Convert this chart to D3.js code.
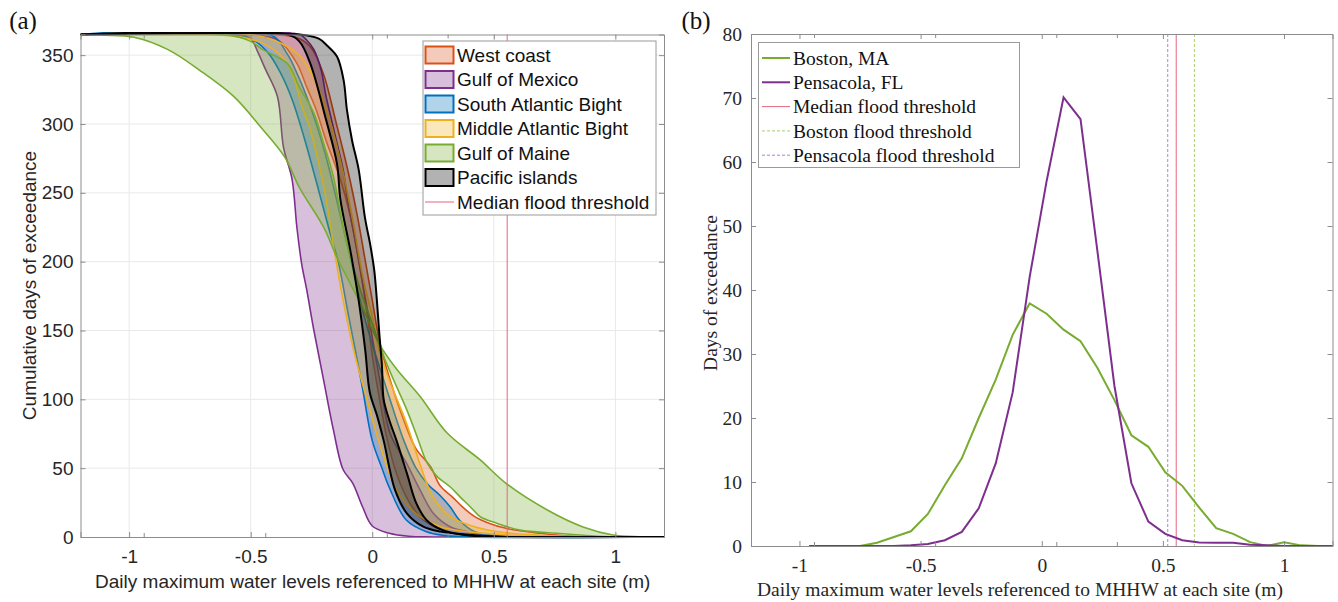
<!DOCTYPE html>
<html>
<head>
<meta charset="utf-8">
<script src="https://cdn.jsdelivr.net/npm/d3@7"></script>
<style>
  body { margin: 0; background: #fff; }
  svg { display: block; }
</style>
</head>
<body>
<svg id="chart" width="1338" height="602"></svg>
<script>

// ---- panel (a) data: cumulative days of exceedance, envelope per region [level (m), days]

const regionNames = ["West coast", "Gulf of Mexico", "South Atlantic Bight",
    "Middle Atlantic Bight", "Gulf of Maine", "Pacific islands"]

const westCoastUpper = [[-1.2, 365], [-0.4, 365], [-0.3, 362], [-0.25, 355], [-0.2, 336], [-0.15, 302],
    [-0.1, 266], [-0.06, 232], [-0.03, 202], [0.0, 172], [0.03, 142], [0.07, 116], [0.14, 80], [0.18, 64],
    [0.24, 51], [0.28, 37], [0.33, 29], [0.37, 22], [0.42, 15], [0.48, 10], [0.55, 6.3], [0.69, 2.7],
    [0.8, 0.8], [0.9, 0], [1.2, 0]]
const westCoastLower = [[-1.2, 365], [-0.5, 365], [-0.42, 363], [-0.38, 360], [-0.31, 344], [-0.27, 327],
    [-0.23, 310], [-0.19, 288], [-0.13, 259], [-0.09, 233], [-0.05, 195], [-0.02, 160], [0.0, 132],
    [0.03, 100], [0.06, 72], [0.1, 46], [0.15, 26], [0.2, 14], [0.3, 4], [0.4, 1], [0.5, 0], [1.2, 0]]

const gulfMexicoUpper = [[-1.2, 365], [-0.3, 365], [-0.27, 361], [-0.24, 354], [-0.21, 339], [-0.19, 320],
    [-0.17, 305], [-0.145, 286], [-0.12, 267], [-0.1, 243], [-0.07, 215], [-0.04, 185], [-0.01, 155],
    [0.03, 115], [0.074, 75], [0.143, 53], [0.197, 34], [0.252, 17], [0.32, 7.5], [0.416, 3], [0.5, 1],
    [0.6, 0.2], [0.7, 0], [1.2, 0]]
const gulfMexicoLower = [[-1.2, 365], [-0.55, 365], [-0.5, 362], [-0.47, 352], [-0.44, 340], [-0.39, 320],
    [-0.365, 283], [-0.33, 260], [-0.31, 225], [-0.29, 198], [-0.27, 180], [-0.24, 150], [-0.2, 114],
    [-0.16, 78], [-0.12, 49], [-0.08, 39], [-0.04, 22], [0.0, 8], [0.07, 2.7], [0.15, 0.5], [0.25, 0], [1.2, 0]]

const southAtlanticUpper = [[-1.2, 365], [-0.42, 365], [-0.35, 351], [-0.31, 337], [-0.27, 320], [-0.23, 300],
    [-0.19, 276], [-0.16, 255], [-0.12, 225], [-0.08, 195], [-0.04, 165], [0.0, 140], [0.04, 118], [0.08, 96],
    [0.13, 70], [0.18, 50], [0.23, 38], [0.28, 30], [0.32, 22], [0.36, 12], [0.42, 4], [0.5, 1], [0.6, 0], [1.2, 0]]
const southAtlanticLower = [[-1.2, 365], [-0.6, 365], [-0.5, 362], [-0.43, 352], [-0.38, 338], [-0.33, 318],
    [-0.28, 290], [-0.23, 258], [-0.18, 225], [-0.14, 200], [-0.1, 163], [-0.07, 136], [-0.04, 108], [0.0, 70],
    [0.04, 50], [0.07, 36], [0.14, 12.3], [0.22, 4], [0.3, 1], [0.4, 0], [1.2, 0]]

const midAtlanticUpper = [[-1.2, 365], [-0.5, 365], [-0.38, 359], [-0.3, 350], [-0.23, 330], [-0.17, 300],
    [-0.12, 265], [-0.08, 230], [-0.04, 190], [0.0, 160], [0.03, 135], [0.07, 114], [0.14, 83], [0.2, 51],
    [0.25, 29], [0.32, 15], [0.42, 7.5], [0.55, 3.1], [0.69, 1.3], [0.85, 0.3], [1.0, 0], [1.2, 0]]
const midAtlanticLower = [[-1.2, 365], [-0.58, 364], [-0.45, 358.6], [-0.36, 346.5], [-0.32, 332],
    [-0.29, 313], [-0.255, 296], [-0.22, 271], [-0.19, 246], [-0.16, 212], [-0.12, 172], [-0.077, 136],
    [-0.022, 100], [0.033, 66], [0.1, 34], [0.18, 17], [0.28, 7.5], [0.39, 3.9], [0.55, 1.5], [0.7, 0.3],
    [0.85, 0], [1.2, 0]]

const gulfMaineWide = [[-1.2, 365], [-1.1, 364.5], [-0.98, 363], [-0.84, 354], [-0.71, 339], [-0.57, 320],
    [-0.46, 298], [-0.36, 276], [-0.3, 254], [-0.2, 225], [-0.145, 203], [-0.05, 170], [0.033, 139],
    [0.1, 122], [0.197, 102], [0.308, 75.5], [0.444, 56], [0.55, 39], [0.72, 19.6], [0.867, 7.3],
    [0.99, 1.5], [1.1, 0.2], [1.2, 0]]
const gulfMaineNarrow = [[-1.2, 365], [-0.6, 365], [-0.5, 360], [-0.45, 354], [-0.35, 344], [-0.3, 327],
    [-0.24, 308], [-0.2, 286], [-0.16, 262], [-0.13, 235], [-0.1, 210], [-0.05, 180], [0.0, 155], [0.05, 130],
    [0.088, 114], [0.143, 92], [0.184, 73], [0.225, 54], [0.266, 44], [0.32, 36.5], [0.362, 29], [0.403, 22],
    [0.444, 14.7], [0.512, 10], [0.608, 5], [0.76, 2.7], [0.9, 0.8], [1.0, 0], [1.2, 0]]

const pacificUpper = [[-1.2, 365], [-0.3, 365], [-0.22, 362], [-0.186, 357], [-0.145, 349], [-0.118, 332],
    [-0.104, 310], [-0.083, 288], [-0.056, 267], [-0.03, 232], [-0.008, 212], [0.008, 194], [0.019, 172],
    [0.029, 148], [0.04, 124], [0.047, 100], [0.07, 85], [0.1, 70], [0.143, 46], [0.18, 25], [0.225, 12],
    [0.29, 5], [0.38, 1.5], [0.5, 0.2], [0.6, 0], [1.2, 0]]
const pacificLower = [[-1.2, 365], [-0.35, 365], [-0.3, 360], [-0.255, 344], [-0.19, 303], [-0.145, 271],
    [-0.131, 245], [-0.09, 208], [-0.056, 172], [-0.029, 136], [-0.01, 105], [0.02, 88], [0.047, 70],
    [0.094, 34], [0.143, 17], [0.21, 7.5], [0.28, 3.9], [0.374, 2], [0.5, 0.3], [0.6, 0], [1.2, 0]]

const regionUpper = [westCoastUpper, gulfMexicoUpper, southAtlanticUpper, midAtlanticUpper, gulfMaineWide, pacificUpper]
const regionLower = [westCoastLower, gulfMexicoLower, southAtlanticLower, midAtlanticLower, gulfMaineNarrow, pacificLower]

const medianFloodThreshold = 0.555

// ---- panel (b) data: days of exceedance per 0.07 m bin

const binCenters = [-0.96, -0.89, -0.82, -0.75, -0.68, -0.61, -0.54, -0.47, -0.40, -0.33, -0.26, -0.19,
    -0.12, -0.05, 0.02, 0.09, 0.16, 0.23, 0.30, 0.37, 0.44, 0.51, 0.58, 0.65, 0.72, 0.79, 0.86, 0.93,
    1.00, 1.07, 1.14, 1.21]
const bostonDays = [0, 0, 0, 0, 0.5, 1.4, 2.3, 5.0, 9.5, 13.7, 20, 26, 33, 37.9, 36.3, 33.8, 32, 27.8,
    22.8, 17.3, 15.5, 11.5, 9.4, 6.0, 2.8, 1.9, 0.6, 0, 0.6, 0.1, 0, 0]
const pensacolaDays = [0, 0, 0, 0, 0, 0, 0.1, 0.3, 0.9, 2.2, 5.9, 12.9, 24, 42, 57, 70.1, 66.7, 46, 25,
    9.8, 3.8, 1.9, 0.9, 0.55, 0.5, 0.5, 0.2, 0.1, 0, 0, 0, 0]
const bostonFloodThreshold = 0.63
const pensacolaFloodThreshold = 0.52

// ticks
const levelTicks = [-1, -0.5, 0, 0.5, 1]
const oddLevelTicks = [-0.94, -0.44, 0.06, 0.31]
const cumulativeTicks = [0, 50, 100, 150, 200, 250, 300, 350]
const daysTicks = [0, 10, 20, 30, 40, 50, 60, 70, 80]


// styles
const regionColors = ["#D95319", "#7E2F8E", "#0072BD", "#EDB120", "#77AC30", "#000000"]
const bostonColor = "#77AC30"
const pensacolaColor = "#7E2F8E"
const medianColor = "#e3677f"
const sansFont = "'Liberation Sans', Arial, sans-serif"
const serifFont = "'Liberation Serif', 'Times New Roman', serif"
const axisGray = "#8c8c8c"
const textDark = "#262626"


var svg = d3.select("#chart")
var defs = svg.append("defs")


function boxAxes(g, x, y, xTicks, yTicks, font, fontSize, xPad, yPad) {

    var x0 = x.range()[0], x1 = x.range()[1]
    var y0 = y.range()[0], y1 = y.range()[1]

    const fmt = d => String(d)

    g.append("g")
        .attr("transform", `translate(0,${y0})`)
        .call(d3.axisBottom(x).tickValues(xTicks).tickSize(-5).tickPadding(xPad).tickFormat(fmt))
    g.append("g")
        .attr("transform", `translate(0,${y1})`)
        .call(d3.axisTop(x).tickValues(xTicks).tickSize(-5).tickFormat(""))
    g.append("g")
        .attr("transform", `translate(${x0},0)`)
        .call(d3.axisLeft(y).tickValues(yTicks).tickSize(-5).tickPadding(yPad).tickFormat(fmt))
    g.append("g")
        .attr("transform", `translate(${x1},0)`)
        .call(d3.axisRight(y).tickValues(yTicks).tickSize(-5).tickFormat(""))

    // the short extra ticks along top and bottom
    g.append("g")
        .attr("transform", `translate(0,${y0})`)
        .call(d3.axisBottom(x).tickValues(oddLevelTicks).tickSize(-4).tickFormat(""))
        .call(a => a.select(".domain").remove())
    g.append("g")
        .attr("transform", `translate(0,${y1})`)
        .call(d3.axisTop(x).tickValues(oddLevelTicks).tickSize(-4).tickFormat(""))
        .call(a => a.select(".domain").remove())

    g.selectAll(".domain").attr("stroke", axisGray)
    g.selectAll(".tick line").attr("stroke", axisGray)
    g.selectAll(".tick text")
        .attr("fill", textDark)
        .attr("font-family", font)
        .attr("font-size", fontSize)
}


function cdfPanel() {

    var x = d3.scaleLinear().domain([-1.2, 1.2]).range([80.5, 664])
    var y = d3.scaleLinear().domain([0, 365]).range([537, 34.5])

    var g = svg.append("g")

    defs.append("clipPath").attr("id", "clipA")
        .append("rect")
        .attr("x", 80.5).attr("y", 32)
        .attr("width", 664 - 80.5).attr("height", 537 - 32 + 2)

    // grid
    g.append("g").selectAll("line")
        .data(levelTicks)
        .join("line")
        .attr("x1", d => x(d)).attr("x2", d => x(d))
        .attr("y1", y(365)).attr("y2", y(0))
        .attr("stroke", "#e9e9e9")
    g.append("g").selectAll("line")
        .data(cumulativeTicks.filter(d => d > 0))
        .join("line")
        .attr("x1", x(-1.2)).attr("x2", x(1.2))
        .attr("y1", d => y(d)).attr("y2", d => y(d))
        .attr("stroke", "#e9e9e9")

    const plot = g.append("g").attr("clip-path", "url(#clipA)")

    const line = d3.line()
        .x(d => x(d[0]))
        .y(d => y(d[1]))
        .curve(d3.curveCatmullRom.alpha(0.5))

    regionNames.forEach((name, i) => {
        var up = regionUpper[i]
        var lo = regionLower[i]
        plot.append("path")
            .attr("d", line(up.concat(lo.slice().reverse())) + "Z")
            .attr("fill", regionColors[i])
            .attr("fill-opacity", 0.3)
            .attr("stroke", "none")
        plot.selectAll(null)
            .data([up, lo])
            .enter()
            .append("path")
            .attr("d", line)
            .attr("fill", "none")
            .attr("stroke", regionColors[i])
            .attr("stroke-width", i == 5 ? 2 : 1.6)
    })

    plot.append("line")
        .attr("x1", x(medianFloodThreshold)).attr("x2", x(medianFloodThreshold))
        .attr("y1", y(365)).attr("y2", y(0))
        .attr("stroke", medianColor)
        .attr("stroke-width", 1)

    boxAxes(g, x, y, levelTicks, cumulativeTicks, sansFont, 19, 13, 7)

    g.append("text")
        .attr("x", (x(-1.2) + x(1.2)) / 2 + 0.5)
        .attr("y", 588)
        .attr("text-anchor", "middle")
        .attr("font-family", sansFont)
        .attr("font-size", 19)
        .attr("fill", textDark)
        .text("Daily maximum water levels referenced to MHHW at each site (m)")

    g.append("text")
        .attr("transform", "translate(29,285.5) rotate(-90)")
        .attr("dy", "0.35em")
        .attr("text-anchor", "middle")
        .attr("font-family", sansFont)
        .attr("font-size", 19)
        .attr("fill", textDark)
        .text("Cumulative days of exceedance")

    // legend
    const lg = g.append("g")
    lg.append("rect")
        .attr("x", 423).attr("y", 41)
        .attr("width", 233).attr("height", 174)
        .attr("fill", "#fff")
        .attr("stroke", "#9a9a9a")

    const rowY = i => 55 + i * 24.5

    regionNames.forEach((name, i) => {
        lg.append("rect")
            .attr("x", 425.5).attr("y", rowY(i) - 8.5)
            .attr("width", 28).attr("height", 17)
            .attr("fill", d3.color(regionColors[i]).copy({ opacity: 0.3 }))
            .attr("stroke", regionColors[i])
            .attr("stroke-width", 2)
        lg.append("text")
            .attr("x", 457).attr("y", rowY(i))
            .attr("dy", "0.35em")
            .attr("font-family", sansFont)
            .attr("font-size", 19)
            .attr("fill", "#111")
            .text(name)
    })

    lg.append("line")
        .attr("x1", 425).attr("x2", 454)
        .attr("y1", rowY(6)).attr("y2", rowY(6))
        .attr("stroke", medianColor)
    lg.append("text")
        .attr("x", 457).attr("y", rowY(6))
        .attr("dy", "0.35em")
        .attr("font-family", sansFont)
        .attr("font-size", 19)
        .attr("fill", "#111")
        .text("Median flood threshold")

    svg.append("text")
        .attr("x", 23).attr("y", 29)
        .attr("text-anchor", "middle")
        .attr("font-family", serifFont)
        .attr("font-size", 25)
        .attr("fill", "#111")
        .text("(a)")
}


function histPanel() {

    var x = d3.scaleLinear().domain([-1.2, 1.2]).range([751, 1332.5])
    var y = d3.scaleLinear().domain([0, 80]).range([546, 34])

    var g = svg.append("g")

    defs.append("clipPath").attr("id", "clipB")
        .append("rect")
        .attr("x", 751).attr("y", 34)
        .attr("width", 1332.5 - 751).attr("height", 546 - 34 + 2)

    const plot = g.append("g").attr("clip-path", "url(#clipB)")

    const vlines = [
        { v: pensacolaFloodThreshold, c: "#b57fd0", dash: "3,2" },
        { v: medianFloodThreshold, c: medianColor, dash: null },
        { v: bostonFloodThreshold, c: "#a9cf72", dash: "3,2" }
    ]
    plot.selectAll(".vline")
        .data(vlines)
        .join("line")
        .attr("class", "vline")
        .attr("x1", d => x(d.v)).attr("x2", d => x(d.v))
        .attr("y1", y(80)).attr("y2", y(0))
        .attr("stroke", d => d.c)
        .attr("stroke-dasharray", d => d.dash)
        .attr("stroke-width", 1)

    const line = d3.line()
        .x((d, i) => x(binCenters[i]))
        .y(d => y(d))

    plot.append("path")
        .attr("d", line(bostonDays))
        .attr("fill", "none")
        .attr("stroke", bostonColor)
        .attr("stroke-width", 2)

    plot.append("path")
        .attr("d", line(pensacolaDays))
        .attr("fill", "none")
        .attr("stroke", pensacolaColor)
        .attr("stroke-width", 2)

    boxAxes(g, x, y, levelTicks, daysTicks, serifFont, 19.5, 12, 9)

    g.append("text")
        .attr("x", 1020)
        .attr("y", 596)
        .attr("text-anchor", "middle")
        .attr("font-family", serifFont)
        .attr("font-size", 19.5)
        .attr("fill", textDark)
        .text("Daily maximum water levels referenced to MHHW at each site (m)")

    g.append("text")
        .attr("transform", "translate(710,293) rotate(-90)")
        .attr("dy", "0.35em")
        .attr("text-anchor", "middle")
        .attr("font-family", serifFont)
        .attr("font-size", 19.5)
        .attr("fill", textDark)
        .text("Days of exceedance")

    // legend
    const lg = g.append("g")
    lg.append("rect")
        .attr("x", 758.5).attr("y", 42.5)
        .attr("width", 261).attr("height", 125)
        .attr("fill", "#fff")
        .attr("stroke", "#9a9a9a")

    const entries = [
        { name: "Boston, MA", c: bostonColor, w: 2, dash: null },
        { name: "Pensacola, FL", c: pensacolaColor, w: 2, dash: null },
        { name: "Median flood threshold", c: medianColor, w: 1, dash: null },
        { name: "Boston flood threshold", c: "#a9cf72", w: 1, dash: "3,2" },
        { name: "Pensacola flood threshold", c: "#b57fd0", w: 1, dash: "3,2" }
    ]
    const rowY = i => 58 + i * 24.3

    entries.forEach((e, i) => {
        lg.append("line")
            .attr("x1", 762).attr("x2", 790)
            .attr("y1", rowY(i)).attr("y2", rowY(i))
            .attr("stroke", e.c)
            .attr("stroke-width", e.w)
            .attr("stroke-dasharray", e.dash)
        lg.append("text")
            .attr("x", 793).attr("y", rowY(i))
            .attr("dy", "0.35em")
            .attr("font-family", serifFont)
            .attr("font-size", 19.5)
            .attr("fill", "#111")
            .text(e.name)
    })

    svg.append("text")
        .attr("x", 696).attr("y", 29)
        .attr("text-anchor", "middle")
        .attr("font-family", serifFont)
        .attr("font-size", 25)
        .attr("fill", "#111")
        .text("(b)")
}


cdfPanel()
histPanel()

</script>
</body>
</html>
